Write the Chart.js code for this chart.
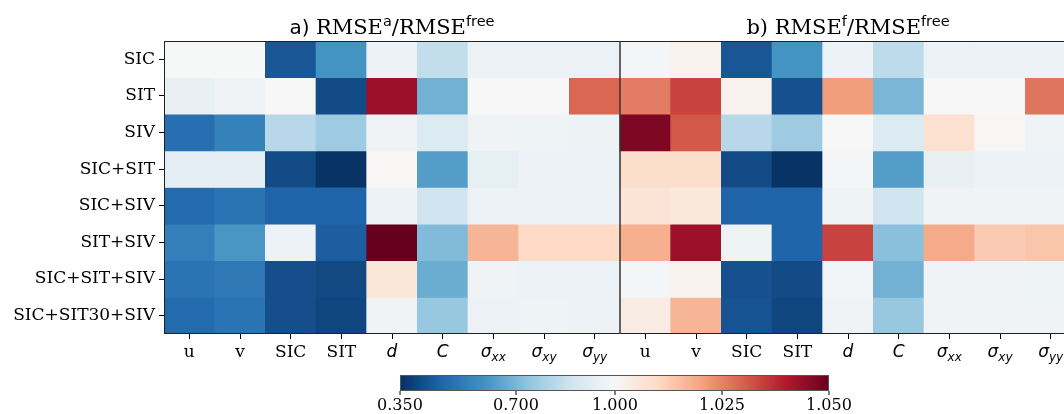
<!DOCTYPE html>
<html>
<head>
<meta charset="utf-8">
<script src="https://cdn.jsdelivr.net/npm/chart.js@4/dist/chart.umd.min.js"></script>
<style>
  html, body { margin: 0; padding: 0; background: #fff; overflow: hidden; }
  #wrap { position: absolute; left: 0; top: 0; width: 1100px; height: 414px; }
</style>
</head>
<body>
<div id="wrap"><canvas id="heatmap" width="1100" height="414"></canvas></div>
<script>
// experiments (rows) and variables (columns)
const rowNames = ["SIC", "SIT", "SIV", "SIC+SIT", "SIC+SIV", "SIT+SIV", "SIC+SIT+SIV", "SIC+SIT30+SIV"];
const columnNames = ["u", "v", "SIC", "SIT", "d", "C", "σxx", "σxy", "σyy"];
const mathColumns = [false, false, false, false, true, true, true, true, true];

// a) RMSE analysis / RMSE free run
const analysisRatio = [
  [0.998, 0.997, 0.441, 0.610, 0.961, 0.840, 0.958, 0.958, 0.958],
  [0.948, 0.974, 1.000, 0.415, 1.043, 0.688, 1.000, 1.000, 1.029],
  [0.506, 0.558, 0.818, 0.766, 0.974, 0.909, 0.974, 0.968, 0.965],
  [0.935, 0.935, 0.415, 0.357, 1.0005, 0.636, 0.940, 0.962, 0.962],
  [0.493, 0.519, 0.474, 0.474, 0.961, 0.870, 0.964, 0.962, 0.962],
  [0.552, 0.617, 0.961, 0.461, 1.050, 0.714, 1.017, 1.010, 1.010],
  [0.519, 0.532, 0.422, 0.409, 1.006, 0.675, 0.974, 0.962, 0.964],
  [0.493, 0.519, 0.422, 0.402, 0.974, 0.753, 0.962, 0.968, 0.962]
];

// b) RMSE forecast / RMSE free run
const forecastRatio = [
  [0.987, 1.002, 0.441, 0.610, 0.961, 0.831, 0.961, 0.961, 0.961],
  [1.026, 1.034, 1.002, 0.428, 1.021, 0.701, 1.000, 1.000, 1.027],
  [1.047, 1.031, 0.818, 0.766, 1.000, 0.909, 1.008, 1.0005, 0.974],
  [1.009, 1.009, 0.415, 0.357, 0.987, 0.636, 0.948, 0.961, 0.961],
  [1.007, 1.0055, 0.474, 0.474, 0.968, 0.870, 0.974, 0.974, 0.974],
  [1.018, 1.043, 0.968, 0.474, 1.034, 0.727, 1.019, 1.013, 1.014],
  [0.987, 1.002, 0.428, 0.415, 0.981, 0.688, 0.974, 0.974, 0.968],
  [1.004, 1.017, 0.435, 0.402, 0.974, 0.753, 0.974, 0.974, 0.974]
];

const colorbarTicks = [0.35, 0.7, 1.0, 1.025, 1.05];
const vmin = 0.35, vcenter = 1.0, vmax = 1.05;

// RdBu_r
const cmapStops = [
  [5, 48, 97], [33, 102, 172], [67, 147, 195], [146, 197, 222], [209, 229, 240],
  [247, 247, 247], [253, 219, 199], [244, 165, 130], [214, 96, 77], [178, 24, 43], [103, 0, 31]
];

function norm(v) {
  let t = v <= vcenter ? 0.5 * (v - vmin) / (vcenter - vmin) : 0.5 + 0.5 * (v - vcenter) / (vmax - vcenter);
  return Math.min(1, Math.max(0, t));
}

function cmap(t) {
  const x = t * (cmapStops.length - 1);
  const i = Math.min(cmapStops.length - 2, Math.floor(x));
  const f = x - i;
  const a = cmapStops[i], b = cmapStops[i + 1];
  const c = a.map((k, j) => Math.round(k + (b[j] - k) * f));
  return `rgb(${c[0]},${c[1]},${c[2]})`;
}

const SERIF = "'DejaVu Serif', serif";
const SANS = "'DejaVu Sans', sans-serif";

const labels = columnNames.concat(columnNames);

function cellValue(row, col) {
  return col < columnNames.length ? analysisRatio[row][col] : forecastRatio[row][col - columnNames.length];
}

const datasets = rowNames.map((name, r) => ({
  label: name,
  data: labels.map(() => [r, r + 1]),
  backgroundColor: (ctx) => cmap(norm(cellValue(r, ctx.dataIndex))),
  borderWidth: 0,
  grouped: false,
  barPercentage: 1,
  categoryPercentage: 1
}));

// frame, divider, panel titles, x labels and the colorbar
const decorPlugin = {
  id: "decor",
  afterDatasetsDraw(chart) {
    const { ctx, chartArea, scales } = chart;
    const xs = scales.x;
    const n = columnNames.length;
    ctx.save();

    ctx.strokeStyle = "#222";
    ctx.lineWidth = 1;
    ctx.strokeRect(chartArea.left + 0.5, chartArea.top + 0.5, chartArea.right - chartArea.left - 1, chartArea.bottom - chartArea.top - 1);
    const divX = (xs.getPixelForValue(n - 1) + xs.getPixelForValue(n)) / 2;
    ctx.strokeStyle = "#333";
    ctx.lineWidth = 1.5;
    ctx.beginPath();
    ctx.moveTo(divX, chartArea.top);
    ctx.lineTo(divX, chartArea.bottom);
    ctx.stroke();

    // x tick labels
    ctx.fillStyle = "#000";
    ctx.textBaseline = "alphabetic";
    labels.forEach((lab, i) => {
      const x = xs.getPixelForValue(i);
      const y = chartArea.bottom + 23;
      const isMath = mathColumns[i % n];
      if (!isMath) {
        ctx.font = `17px ${SERIF}`;
        ctx.textAlign = "center";
        ctx.fillText(lab, x, y);
      } else {
        const main = lab[0], sub = lab.slice(1);
        ctx.textAlign = "left";
        ctx.font = `italic 17px ${SANS}`;
        const w1 = ctx.measureText(main).width;
        ctx.font = `italic 12px ${SANS}`;
        const w2 = sub ? ctx.measureText(sub).width : 0;
        const x0 = x - (w1 + w2) / 2;
        ctx.font = `italic 17px ${SANS}`;
        ctx.fillText(main, x0, y);
        if (sub) {
          ctx.font = `italic 12px ${SANS}`;
          ctx.fillText(sub, x0 + w1, y + 4);
        }
      }
    });

    // panel titles
    const titleParts = [
      [["a) ", `20px ${SANS}`, 0], ["RMSE", `21px ${SERIF}`, 0], ["a", `14.5px ${SANS}`, -8], ["/RMSE", `21px ${SERIF}`, 0], ["free", `14.5px ${SANS}`, -8]],
      [["b) RMSE", `21px ${SERIF}`, 0], ["f", `14.5px ${SANS}`, -8], ["/RMSE", `21px ${SERIF}`, 0], ["free", `14.5px ${SANS}`, -8]]
    ];
    titleParts.forEach((parts, p) => {
      const cx = (xs.getPixelForValue(p * n) + xs.getPixelForValue(p * n + n - 1)) / 2;
      let total = 0;
      parts.forEach(([t, f]) => { ctx.font = f; total += ctx.measureText(t).width; });
      let x = cx - total / 2;
      ctx.textAlign = "left";
      parts.forEach(([t, f, dy]) => {
        ctx.font = f;
        ctx.fillText(t, x, chartArea.top - 7 + dy);
        x += ctx.measureText(t).width;
      });
    });

    // colorbar
    const cbL = 400, cbR = 829, cbT = 375, cbB = 391;
    const grad = ctx.createLinearGradient(cbL, 0, cbR, 0);
    for (let k = 0; k <= 100; k++) grad.addColorStop(k / 100, cmap(k / 100));
    ctx.fillStyle = grad;
    ctx.fillRect(cbL, cbT, cbR - cbL, cbB - cbT);
    ctx.strokeStyle = "#555";
    ctx.lineWidth = 1;
    ctx.strokeRect(cbL + 0.5, cbT + 0.5, cbR - cbL - 1, cbB - cbT - 1);
    ctx.fillStyle = "#000";
    ctx.strokeStyle = "#000";
    ctx.font = `16px ${SERIF}`;
    ctx.textAlign = "center";
    colorbarTicks.forEach((v) => {
      const x = Math.round(cbL + norm(v) * (cbR - cbL));
      ctx.beginPath();
      ctx.moveTo(x, cbB);
      ctx.lineTo(x, cbB + 4);
      ctx.stroke();
      ctx.fillText(v.toFixed(3), x, cbB + 19);
    });

    ctx.restore();
  }
};

new Chart(document.getElementById("heatmap"), {
  type: "bar",
  data: { labels: labels, datasets: datasets },
  options: {
    responsive: false,
    animation: false,
    layout: { padding: { top: 41, right: 24, left: 0, bottom: 0 } },
    plugins: { legend: { display: false }, tooltip: { enabled: false }, title: { display: false } },
    scales: {
      x: {
        type: "category",
        offset: true,
        grid: { display: true, drawOnChartArea: false, offset: false, drawTicks: true, tickLength: 5, color: "#000" },
        border: { display: false },
        ticks: { display: false },
        afterFit: (scale) => { scale.height = 414 - 334; }
      },
      y: {
        type: "linear",
        min: 0,
        max: 8,
        reverse: true,
        afterBuildTicks: (scale) => { scale.ticks = rowNames.map((_, i) => ({ value: i + 0.5 })); },
        grid: { display: true, drawOnChartArea: false, drawTicks: true, tickLength: 5, color: "#000" },
        border: { display: false },
        ticks: {
          autoSkip: false,
          padding: 4,
          color: "#000",
          font: { family: "'DejaVu Serif', serif", size: 17 },
          callback: (v) => rowNames[Math.floor(v)]
        },
        afterFit: (scale) => { scale.width = 164; }
      }
    }
  },
  plugins: [decorPlugin]
});
</script>
</body>
</html>
